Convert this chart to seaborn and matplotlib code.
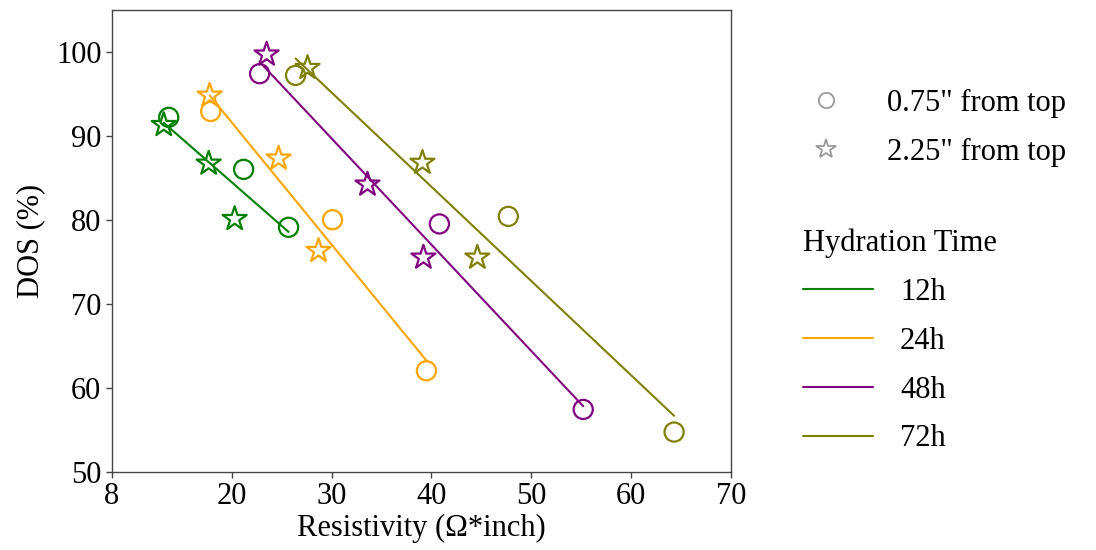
import matplotlib
matplotlib.use("Agg")
import matplotlib.pyplot as plt
from matplotlib.lines import Line2D
import numpy as np
import pandas as pd
import seaborn as sns

# ---- data ----
hours = ["12h", "24h", "48h", "72h"]
colors = ["green", "orange", "purple", "olive"]

# 0.75" from top (circles)
x_075 = {"12h": [13.7, 21.2, 25.7], "24h": [17.9, 30.1, 39.5],
         "48h": [22.8, 40.8, 55.2], "72h": [26.4, 47.7, 64.3]}
y_075 = {"12h": [92.2, 86.0, 79.1], "24h": [92.9, 80.0, 62.0],
         "48h": [97.4, 79.5, 57.4], "72h": [97.2, 80.4, 54.7]}
# 2.25" from top (stars)
x_225 = {"12h": [13.2, 17.7, 20.3], "24h": [17.8, 24.7, 28.7],
         "48h": [23.5, 33.6, 39.2], "72h": [27.6, 39.1, 44.6]}
y_225 = {"12h": [91.3, 86.7, 80.1], "24h": [94.8, 87.3, 76.3],
         "48h": [99.7, 84.2, 75.5], "72h": [98.1, 86.8, 75.5]}

x_ticks = [8, 20, 30, 40, 50, 60, 70]
y_ticks = [50, 60, 70, 80, 90, 100]

rows = []
for h in hours:
    for xv, yv in zip(x_075[h], y_075[h]):
        rows.append((h, '0.75" from top', xv, yv))
    for xv, yv in zip(x_225[h], y_225[h]):
        rows.append((h, '2.25" from top', xv, yv))
df = pd.DataFrame(rows, columns=["hours", "depth", "res", "dos"])

sns.set_style("ticks")
plt.rcParams["font.family"] = ["Liberation Serif", "DejaVu Serif"]
plt.rcParams["text.color"] = "black"
plt.rcParams["axes.labelcolor"] = "black"
plt.rcParams["xtick.labelcolor"] = "black"
plt.rcParams["ytick.labelcolor"] = "black"

fig = plt.figure(figsize=(10.96, 5.5), dpi=100)
ax = fig.add_axes([0.102, 0.1427, 0.565, 0.8393])

pal = dict(zip(hours, colors))
markers = {'0.75" from top': "o", '2.25" from top': "*"}
msize = {'0.75" from top': 190, '2.25" from top': 330}

for h in hours:
    sub = df[df["hours"] == h]
    sns.regplot(data=sub, x="res", y="dos", ax=ax, scatter=False, ci=None,
                color=pal[h], line_kws={"lw": 1.5})
    for d, mk in markers.items():
        s2 = sub[sub["depth"] == d]
        ax.scatter(s2["res"], s2["dos"], marker=mk, s=msize[d],
                   facecolors="none", edgecolors=pal[h], linewidths=1.6, zorder=3)

ax.set_xlim(8, 70)
ax.set_ylim(50, 105)
ax.set_xticks(x_ticks)
ax.set_yticks(y_ticks)
ax.tick_params(labelsize=22, direction="out", length=4, width=1, color="#444444",
               labelcolor="black")
ax.set_xlabel("Resistivity (Ω*inch)", fontsize=22, labelpad=2, color="black")
ax.set_ylabel("DOS (%)", fontsize=22, labelpad=8, color="black")
for sp in ax.spines.values():
    sp.set_visible(True)
    sp.set_color("#444444")
    sp.set_linewidth(1.0)

h1 = [Line2D([], [], ls="none", marker="o", markersize=11, markerfacecolor="none",
             markeredgecolor="#999999", markeredgewidth=1.3),
      Line2D([], [], ls="none", marker="*", markersize=15, markerfacecolor="none",
             markeredgecolor="#999999", markeredgewidth=1.3)]
leg1 = fig.legend(h1, ['0.75" from top', '2.25" from top'], loc="upper left",
                  bbox_to_anchor=(0.708, 0.888), frameon=False, fontsize=22,
                  handlelength=1.5, handletextpad=1.24, labelspacing=0.65)

h2 = [Line2D([], [], color=c, lw=1.5) for c in colors]
leg2 = fig.legend(h2, hours, loc="upper left", bbox_to_anchor=(0.7074, 0.6345),
                  frameon=False, fontsize=22, title="Hydration Time",
                  title_fontsize=22, handlelength=2.3, handletextpad=0.88,
                  labelspacing=0.65)
leg2._legend_box.align = "left"
for t in leg1.get_texts() + leg2.get_texts() + [leg2.get_title()]:
    t.set_color("black")

fig.savefig("out.png", dpi=100)
